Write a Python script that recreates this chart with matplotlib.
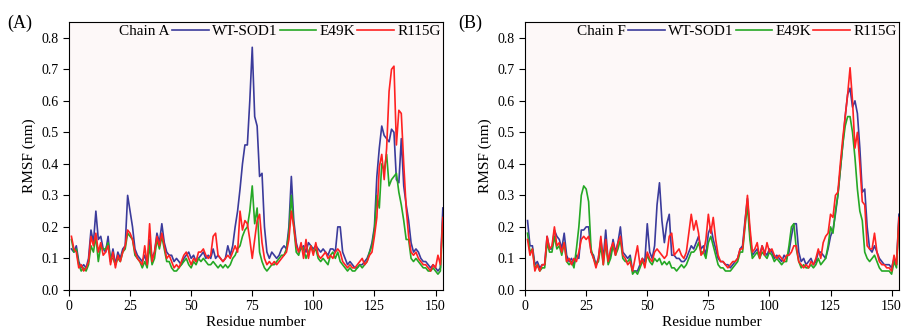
import numpy as np
import matplotlib.pyplot as plt

plt.rcParams['font.family'] = ['Liberation Serif', 'DejaVu Serif']

# Номера остатков
residues = np.arange(1, 154)

# Цепь A
wt_a = [0.13, 0.12, 0.14, 0.09, 0.07, 0.08, 0.07, 0.10, 0.19, 0.15,
        0.25, 0.16, 0.17, 0.13, 0.12, 0.17, 0.09, 0.13, 0.08, 0.12,
        0.10, 0.13, 0.14, 0.30, 0.25, 0.20, 0.13, 0.11, 0.10, 0.09,
        0.11, 0.08, 0.16, 0.10, 0.12, 0.18, 0.15, 0.21, 0.15, 0.12,
        0.11, 0.11, 0.09, 0.10, 0.09, 0.08, 0.10, 0.11, 0.12, 0.10,
        0.11, 0.09, 0.10, 0.11, 0.12, 0.10, 0.11, 0.10, 0.13, 0.10,
        0.11, 0.10, 0.09, 0.10, 0.14, 0.11, 0.14, 0.20, 0.25, 0.32,
        0.40, 0.46, 0.46, 0.60, 0.77, 0.55, 0.52, 0.36, 0.37, 0.20,
        0.12, 0.10, 0.12, 0.11, 0.10, 0.11, 0.13, 0.14, 0.13, 0.20,
        0.36, 0.22, 0.15, 0.12, 0.13, 0.14, 0.12, 0.15, 0.14, 0.13,
        0.14, 0.13, 0.12, 0.13, 0.12, 0.11, 0.13, 0.13, 0.12, 0.20,
        0.20, 0.12, 0.10, 0.08, 0.09, 0.08, 0.07, 0.07, 0.08, 0.08,
        0.09, 0.10, 0.12, 0.15, 0.20, 0.36, 0.45, 0.52, 0.49, 0.48,
        0.47, 0.51, 0.50, 0.35, 0.34, 0.48, 0.33, 0.27, 0.22, 0.15,
        0.12, 0.13, 0.12, 0.10, 0.09, 0.09, 0.08, 0.07, 0.08, 0.07,
        0.06, 0.07, 0.26]
e49k_a = [0.16, 0.12, 0.13, 0.08, 0.06, 0.07, 0.06, 0.08, 0.14, 0.12,
          0.17, 0.09, 0.14, 0.13, 0.13, 0.15, 0.10, 0.10, 0.08, 0.10,
          0.09, 0.12, 0.13, 0.18, 0.17, 0.16, 0.11, 0.10, 0.09, 0.07,
          0.09, 0.07, 0.14, 0.08, 0.10, 0.16, 0.13, 0.17, 0.13, 0.09,
          0.09, 0.07, 0.06, 0.06, 0.07, 0.08, 0.09, 0.10, 0.08, 0.07,
          0.09, 0.08, 0.10, 0.09, 0.10, 0.09, 0.08, 0.08, 0.09, 0.08,
          0.07, 0.08, 0.07, 0.08, 0.07, 0.08, 0.10, 0.11, 0.13, 0.14,
          0.17, 0.19, 0.20, 0.25, 0.33, 0.21, 0.26, 0.12, 0.09, 0.07,
          0.06, 0.07, 0.08, 0.08, 0.09, 0.10, 0.11, 0.11, 0.13, 0.18,
          0.30, 0.20, 0.12, 0.11, 0.14, 0.13, 0.10, 0.12, 0.14, 0.12,
          0.13, 0.10, 0.09, 0.10, 0.09, 0.08, 0.11, 0.12, 0.10, 0.12,
          0.09, 0.08, 0.07, 0.06, 0.07, 0.06, 0.06, 0.07, 0.08, 0.07,
          0.08, 0.09, 0.12, 0.14, 0.19, 0.30, 0.26, 0.40, 0.38, 0.43,
          0.33, 0.35, 0.36, 0.37, 0.31, 0.27, 0.22, 0.16, 0.16, 0.10,
          0.09, 0.10, 0.09, 0.08, 0.07, 0.07, 0.06, 0.06, 0.07, 0.06,
          0.05, 0.06, 0.22]
r115g_a = [0.17, 0.13, 0.12, 0.07, 0.08, 0.06, 0.07, 0.09, 0.17, 0.14,
           0.18, 0.12, 0.15, 0.11, 0.12, 0.14, 0.08, 0.12, 0.07, 0.11,
           0.09, 0.12, 0.14, 0.19, 0.18, 0.16, 0.12, 0.10, 0.09, 0.08,
           0.14, 0.08, 0.21, 0.09, 0.12, 0.17, 0.14, 0.18, 0.14, 0.10,
           0.11, 0.09, 0.07, 0.08, 0.07, 0.09, 0.11, 0.12, 0.10, 0.08,
           0.10, 0.09, 0.12, 0.12, 0.13, 0.11, 0.10, 0.11, 0.17, 0.18,
           0.11, 0.10, 0.09, 0.10, 0.11, 0.10, 0.12, 0.14, 0.12, 0.25,
           0.19, 0.22, 0.21, 0.16, 0.10, 0.16, 0.22, 0.24, 0.15, 0.10,
           0.08, 0.09, 0.08, 0.09, 0.08, 0.09, 0.10, 0.11, 0.12, 0.16,
           0.25, 0.20, 0.14, 0.12, 0.15, 0.10, 0.16, 0.10, 0.14, 0.11,
           0.15, 0.11, 0.10, 0.11, 0.12, 0.10, 0.11, 0.10, 0.12, 0.13,
           0.12, 0.09, 0.08, 0.07, 0.08, 0.07, 0.07, 0.08, 0.09, 0.10,
           0.08, 0.09, 0.11, 0.12, 0.17, 0.23, 0.39, 0.43, 0.35, 0.45,
           0.63, 0.70, 0.71, 0.46, 0.57, 0.56, 0.40, 0.26, 0.17, 0.12,
           0.11, 0.12, 0.10, 0.09, 0.08, 0.08, 0.07, 0.06, 0.08, 0.07,
           0.11, 0.08, 0.23]

# Цепь F
wt_f = [0.22, 0.14, 0.14, 0.08, 0.09, 0.07, 0.08, 0.08, 0.17, 0.13,
        0.13, 0.19, 0.17, 0.16, 0.13, 0.18, 0.11, 0.09, 0.10, 0.08,
        0.11, 0.10, 0.19, 0.19, 0.20, 0.20, 0.12, 0.11, 0.08, 0.10,
        0.16, 0.10, 0.19, 0.09, 0.11, 0.16, 0.12, 0.15, 0.20, 0.12,
        0.11, 0.10, 0.11, 0.06, 0.06, 0.06, 0.08, 0.10, 0.09, 0.21,
        0.12, 0.10, 0.14, 0.27, 0.34, 0.22, 0.15, 0.21, 0.24, 0.11,
        0.11, 0.10, 0.10, 0.09, 0.09, 0.10, 0.12, 0.14, 0.13, 0.15,
        0.17, 0.13, 0.14, 0.11, 0.18, 0.20, 0.16, 0.13, 0.10, 0.09,
        0.09, 0.08, 0.08, 0.07, 0.08, 0.09, 0.10, 0.13, 0.14, 0.22,
        0.29, 0.18, 0.11, 0.12, 0.13, 0.11, 0.14, 0.12, 0.11, 0.13,
        0.12, 0.10, 0.11, 0.10, 0.09, 0.11, 0.10, 0.12, 0.17, 0.21,
        0.21, 0.12, 0.09, 0.10, 0.08, 0.09, 0.10, 0.08, 0.09, 0.12,
        0.12, 0.11, 0.10, 0.13, 0.17, 0.19, 0.24, 0.30, 0.38, 0.46,
        0.55, 0.62, 0.64, 0.58, 0.60, 0.56, 0.45, 0.31, 0.32, 0.20,
        0.13, 0.12, 0.14, 0.12, 0.10, 0.09, 0.08, 0.08, 0.08, 0.07,
        0.10, 0.08, 0.24]
e49k_f = [0.18, 0.12, 0.13, 0.07, 0.08, 0.06, 0.07, 0.07, 0.15, 0.12,
          0.12, 0.17, 0.13, 0.14, 0.11, 0.15, 0.09, 0.08, 0.09, 0.07,
          0.13, 0.20, 0.30, 0.33, 0.32, 0.28, 0.13, 0.10, 0.08, 0.09,
          0.14, 0.08, 0.15, 0.08, 0.10, 0.14, 0.11, 0.13, 0.16, 0.10,
          0.09, 0.09, 0.10, 0.05, 0.06, 0.05, 0.07, 0.09, 0.08, 0.11,
          0.09, 0.08, 0.10, 0.09, 0.10, 0.08, 0.09, 0.08, 0.09, 0.07,
          0.07, 0.06, 0.07, 0.08, 0.07, 0.08, 0.10, 0.12, 0.12, 0.13,
          0.15, 0.12, 0.12, 0.10, 0.15, 0.17, 0.14, 0.11, 0.08, 0.07,
          0.07, 0.06, 0.06, 0.06, 0.07, 0.08, 0.09, 0.12, 0.12, 0.20,
          0.27, 0.16, 0.10, 0.11, 0.12, 0.10, 0.12, 0.11, 0.10, 0.12,
          0.11, 0.09, 0.10, 0.09, 0.08, 0.09, 0.09, 0.14, 0.20, 0.21,
          0.13, 0.09, 0.07, 0.08, 0.07, 0.07, 0.08, 0.07, 0.08, 0.10,
          0.08, 0.09, 0.10, 0.14, 0.20, 0.18, 0.25, 0.30, 0.38, 0.46,
          0.52, 0.55, 0.55, 0.50, 0.42, 0.32, 0.25, 0.22, 0.12, 0.10,
          0.09, 0.10, 0.11, 0.09, 0.07, 0.06, 0.06, 0.06, 0.06, 0.05,
          0.09, 0.07, 0.22]
r115g_f = [0.16, 0.11, 0.13, 0.06, 0.08, 0.06, 0.08, 0.08, 0.17, 0.13,
           0.14, 0.20, 0.14, 0.15, 0.12, 0.15, 0.09, 0.10, 0.08, 0.10,
           0.09, 0.12, 0.16, 0.17, 0.16, 0.17, 0.12, 0.10, 0.07, 0.10,
           0.17, 0.08, 0.16, 0.09, 0.13, 0.15, 0.11, 0.15, 0.17, 0.11,
           0.10, 0.08, 0.09, 0.06, 0.10, 0.14, 0.08, 0.10, 0.07, 0.12,
           0.10, 0.09, 0.12, 0.13, 0.12, 0.11, 0.10, 0.11, 0.17, 0.18,
           0.11, 0.12, 0.13, 0.11, 0.10, 0.12, 0.18, 0.24, 0.19, 0.22,
           0.18, 0.11, 0.12, 0.16, 0.24, 0.18, 0.23, 0.16, 0.11, 0.09,
           0.09, 0.08, 0.07, 0.08, 0.09, 0.09, 0.10, 0.13, 0.13, 0.21,
           0.30, 0.20, 0.12, 0.13, 0.15, 0.10, 0.14, 0.11, 0.15, 0.12,
           0.13, 0.11, 0.10, 0.11, 0.10, 0.09, 0.11, 0.11, 0.12, 0.14,
           0.14, 0.09, 0.08, 0.07, 0.08, 0.07, 0.09, 0.08, 0.10, 0.13,
           0.10, 0.15, 0.17, 0.18, 0.24, 0.23, 0.30, 0.31, 0.40, 0.48,
           0.55, 0.62, 0.705, 0.60, 0.45, 0.50, 0.40, 0.28, 0.27, 0.14,
           0.13, 0.13, 0.18, 0.12, 0.09, 0.08, 0.08, 0.07, 0.07, 0.06,
           0.11, 0.08, 0.23]

chains = ['Chain A', 'Chain F']
panel_labels = ['(A)', '(B)']
series = [(wt_a, e49k_a, r115g_a), (wt_f, e49k_f, r115g_f)]
names = ['WT-SOD1', 'E49K', 'R115G']
colors = ['#3b3b9b', '#25a825', '#ff2222']

fig = plt.figure(figsize=(9.03, 3.34), dpi=100)
lefts = [0.0764, 0.5815]

for i in range(2):
    ax = fig.add_axes([lefts[i], 0.132, 0.414, 0.802])
    ax.set_facecolor('#fdf8f8')
    for vals, nm, c in zip(series[i], names, colors):
        ax.plot(residues, vals, color=c, linewidth=1.2, label=nm)
    ax.set_xlim(0, 153)
    ax.set_ylim(0, 0.85)
    ax.set_xticks([0, 25, 50, 75, 100, 125, 150])
    ax.set_yticks(np.arange(0, 0.81, 0.1))
    ax.set_yticklabels(['%.1f' % v for v in np.arange(0, 0.81, 0.1)])
    ax.tick_params(direction='out', length=4, labelsize=10)
    ax.set_xlabel('Residue number', fontsize=11, labelpad=2)
    ax.set_ylabel('RMSF (nm)', fontsize=11, labelpad=4)
    leg = ax.legend(ncol=3, loc='upper right', frameon=False, fontsize=11,
                    handlelength=2.4, handletextpad=0.2, columnspacing=0.15,
                    borderaxespad=0.05, borderpad=0.1)
    # Подпись цепи прямо слева от легенды
    fig.canvas.draw()
    bb = leg.get_window_extent()
    ax.annotate(chains[i], xy=(bb.x0 - 1, 0.965), xycoords=('figure pixels', 'axes fraction'),
                fontsize=11, ha='right', va='center')
    fig.text(0.008 + 0.5 * i, 0.93, panel_labels[i], fontsize=13, ha='left', va='center')

plt.savefig('out.png', dpi=100)
